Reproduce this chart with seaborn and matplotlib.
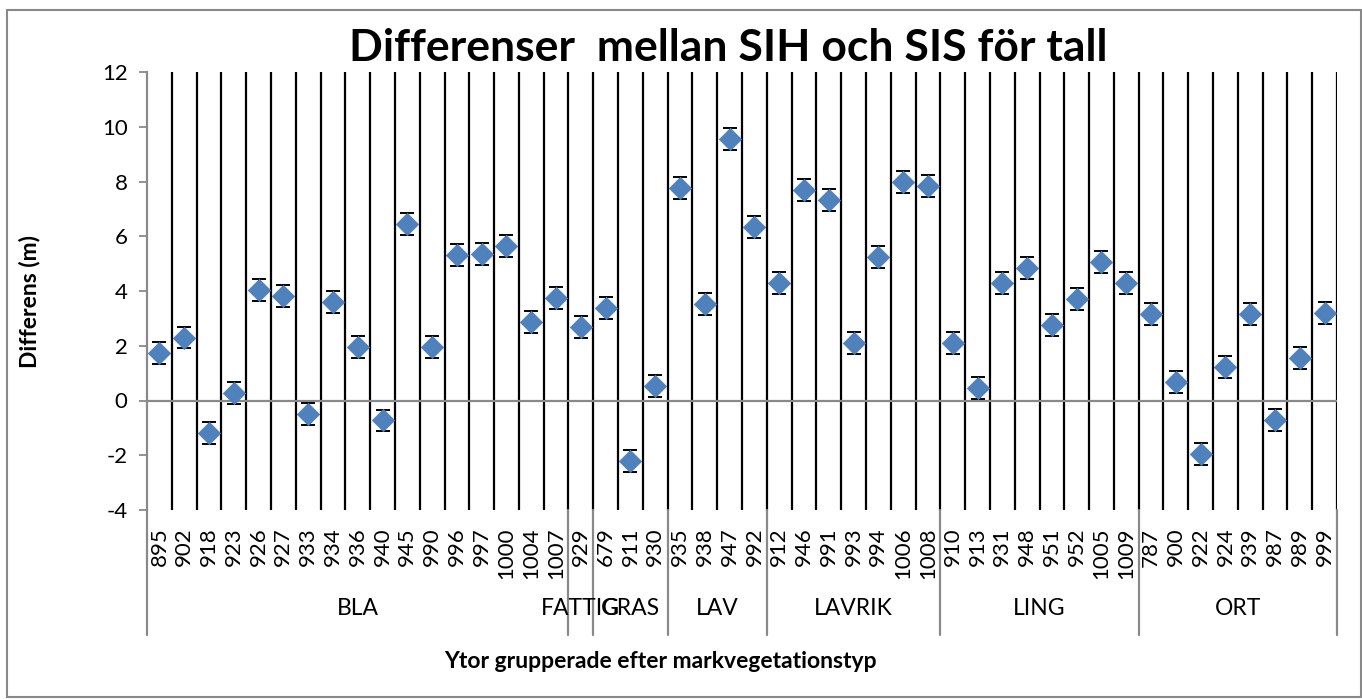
import numpy as np
import pandas as pd
import seaborn as sns
import matplotlib.pyplot as plt
from matplotlib.patches import Rectangle
import matplotlib.transforms as mtransforms

# data
groups = ['BLA', 'FATTIG', 'GRAS', 'LAV', 'LAVRIK', 'LING', 'ORT']
plots = [
    ['895', '902', '918', '923', '926', '927', '933', '934', '936', '940', '945',
     '990', '996', '997', '1000', '1004', '1007'],
    ['929'],
    ['679', '911', '930'],
    ['935', '938', '947', '992'],
    ['912', '946', '991', '993', '994', '1006', '1008'],
    ['910', '913', '931', '948', '951', '952', '1005', '1009'],
    ['787', '900', '922', '924', '939', '987', '989', '999'],
]
diffs = [
    [1.75, 2.3, -1.2, 0.27, 4.05, 3.82, -0.5, 3.6, 1.97, -0.73, 6.45,
     1.97, 5.3, 5.35, 5.65, 2.87, 3.75],
    [2.68],
    [3.38, -2.2, 0.53],
    [7.76, 3.52, 9.55, 6.35],
    [4.3, 7.7, 7.32, 2.1, 5.25, 7.97, 7.83],
    [2.1, 0.46, 4.3, 4.85, 2.76, 3.7, 5.05, 4.3],
    [3.16, 0.68, -1.95, 1.22, 3.16, -0.71, 1.55, 3.2],
]
err = 0.4

rows = []
for g, ids, vals in zip(groups, plots, diffs):
    for i, v in zip(ids, vals):
        rows.append({'group': g, 'yta': i, 'diff': v})
df = pd.DataFrame(rows)
df['pos'] = np.arange(len(df))
n = len(df)

sns.set_style('white')
plt.rcParams['font.family'] = ['Lato', 'DejaVu Sans']
plt.rcParams['axes.unicode_minus'] = False
plt.rcParams['text.color'] = 'black'
plt.rcParams['ytick.labelcolor'] = 'black'

fig = plt.figure(figsize=(13.62, 6.99), dpi=100)
ax = fig.add_axes([147 / 1362, 1 - 510 / 699, 1190 / 1362, 438 / 699])

grey = '#898989'

# black vertical gridlines between plots
ax.vlines(np.arange(0.5, n, 1.0), -4, 12, color='black', lw=1.6, zorder=1)
ax.axhline(0, color=grey, lw=1.6, zorder=1.5)

ax.errorbar(df['pos'], df['diff'], yerr=err, fmt='none', ecolor='black',
            elinewidth=1.4, capsize=5, capthick=1.4, zorder=2)
sns.scatterplot(data=df, x='pos', y='diff', marker='D', s=130, color='#4F81BD',
                edgecolor='#4A7EBB', linewidth=0.5, zorder=3, ax=ax, legend=False)

ax.set_xlim(-0.5, n - 0.5)
ax.set_ylim(-4, 12)
ax.set_yticks(np.arange(-4, 13, 2))
ax.tick_params(axis='y', direction='out', length=6, width=1.3, color=grey,
               labelsize=16, labelcolor='black', pad=8, left=True)
ax.set_xticks([])
ax.set_xlabel('')
ax.set_ylabel('')
for s in ['top', 'right', 'bottom']:
    ax.spines[s].set_visible(False)
ax.spines['left'].set_color(grey)
ax.spines['left'].set_linewidth(1.6)

# two-level category axis
trans = mtransforms.blended_transform_factory(ax.transData, ax.transAxes)
for p, lab in zip(df['pos'], df['yta']):
    ax.text(p, -0.04, lab, rotation=90, ha='center', va='top', fontsize=16,
            transform=trans, clip_on=False)

bounds = [-0.5]
start = 0
for g, ids in zip(groups, plots):
    end = start + len(ids)
    ax.text((start + end - 1) / 2, -0.224, g, ha='center', va='center',
            fontsize=16.5, transform=trans, clip_on=False)
    bounds.append(end - 0.5)
    start = end
for b in bounds:
    ax.plot([b, b], [0, -0.285], color=grey, lw=1.6, transform=trans, clip_on=False)

fig.text(728 / 1362, 1 - 48 / 699, 'Differenser  mellan SIH och SIS för tall',
         ha='center', va='center', fontsize=32, fontweight='bold')
fig.text(30 / 1362, 1 - 301 / 699, 'Differens (m)', rotation=90, ha='center',
         va='center', fontsize=16.5, fontweight='bold')
fig.text(660 / 1362, 1 - 662 / 699, 'Ytor grupperade efter markvegetationstyp',
         ha='center', va='center', fontsize=16.5, fontweight='bold')

fig.patches.append(Rectangle((7 / 1362, 2 / 699), 1354 / 1362, 687 / 699,
                             transform=fig.transFigure, fill=False,
                             edgecolor=grey, lw=1.5))

fig.savefig('out.png', dpi=100)
